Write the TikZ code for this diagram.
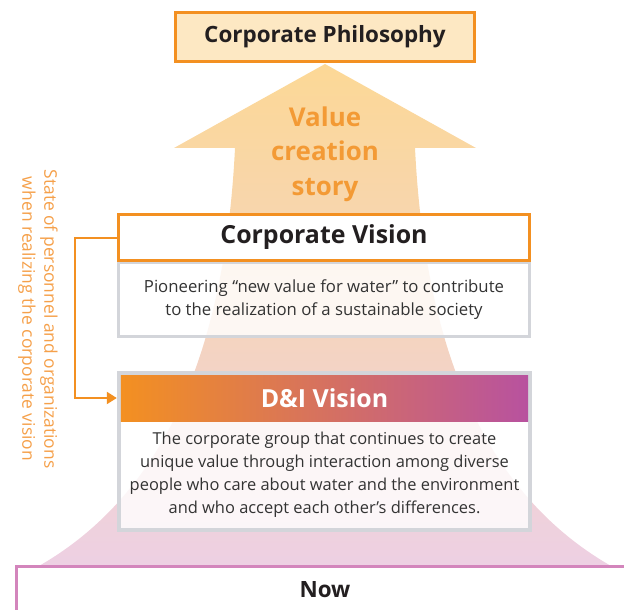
\documentclass[tikz,border=0pt]{standalone}
\usepackage{fontspec}
\setmainfont{Open Sans}
\usetikzlibrary{arrows.meta}
\definecolor{corange}{HTML}{F39021}
\definecolor{phfill}{HTML}{FDE8C3}
\definecolor{darktxt}{HTML}{231F20}
\definecolor{bodytxt}{HTML}{333333}
\definecolor{grayb}{HTML}{D3D5DA}
\definecolor{cpurple}{HTML}{B8529F}
\definecolor{pinkb}{HTML}{D385BC}
\definecolor{sidetxt}{HTML}{F5A04A}
\definecolor{vtxt}{HTML}{F39A35}
\definecolor{sh1}{RGB}{252,216,150}
\definecolor{sh2}{RGB}{242,208,196}
\definecolor{sh3}{RGB}{237,208,228}
\tikzset{
  orangebox/.style={draw=corange, line width=3bp, fill=white, inner sep=0pt},
  graybox/.style={draw=grayb, line width=3.5bp, fill=white, fill opacity=0.82, text opacity=1, inner sep=0pt},
  bodyfont/.style={font=\fontsize{16.8}{23}\selectfont, text=bodytxt, align=center},
  titlefont/.style={font=\fontsize{25}{28}\selectfont\bfseries, text=darktxt}
}
\begin{document}
\begin{tikzpicture}[x=1bp,y=-1bp]
\useasboundingbox (0,0) rectangle (624,610);
\clip (0,0) rectangle (624,610);
% big arrow / flare
\shade[top color=sh1, middle color=sh2, bottom color=sh3]
  (325,64) -- (174,148) -- (235,148)
  .. controls (225,350) and (165,500) .. (28,572)
  -- (622,572)
  .. controls (485,500) and (425,350) .. (415,148)
  -- (476,148) -- cycle;
% Corporate Philosophy
\node[draw=corange, line width=3bp, fill=phfill, minimum width=298.5bp, minimum height=49bp, inner sep=0pt,
      font=\fontsize{22.5}{26}\selectfont\bfseries, text=darktxt] (phil) at (325,37) {Corporate Philosophy};
% Value creation story
\node[font=\fontsize{26}{34.5}\selectfont\bfseries, text=vtxt, align=center] (vcs) at (325,154) {Value\\creation\\story};
% Corporate Vision
\node[graybox, minimum width=411bp, minimum height=74bp, bodyfont] (cvd) at (324,299.5)
  {Pioneering “new value for water” to contribute\\to the realization of a sustainable society};
\node[orangebox, minimum width=411bp, minimum height=46bp, titlefont] (cvt) at (324,237.5) {Corporate Vision};
% D&I Vision
\node[graybox, minimum width=411bp, minimum height=157bp] (di) at (324.5,451.5) {};
\node[inner sep=0pt, minimum width=407bp, minimum height=46bp, left color=corange, right color=cpurple,
      font=\fontsize{25}{28}\selectfont\bfseries, text=white] (dit) at (324.5,398) {D\&I Vision};
\node[bodyfont, font=\fontsize{16.5}{23}\selectfont] (dib) at (324.5,474.5) {The corporate group that continues to create\\unique value through interaction among diverse\\people who care about water and the environment\\and who accept each other’s differences.};
% Now
\node[draw=pinkb, line width=3bp, fill=white, minimum width=630bp, minimum height=80bp, inner sep=0pt] (nowbox) at (332,606) {};
\node[titlefont, font=\fontsize{22.5}{26}\selectfont\bfseries] (now) at (325,590) {Now};
% side text
\node[rotate=-90, align=center, text=sidetxt, font=\fontsize{17.5}{22}\selectfont] (side) at (38,319)
  {State of personnel and organizations\\when realizing the corporate vision};
% connector
\coordinate (bend) at (75,237.5);
\draw[corange, line width=2bp, -{Triangle[length=10bp,width=12bp]}, shorten >=4bp]
  (cvt.west) -- (bend) |- (dit.west);
\end{tikzpicture}
\end{document}
